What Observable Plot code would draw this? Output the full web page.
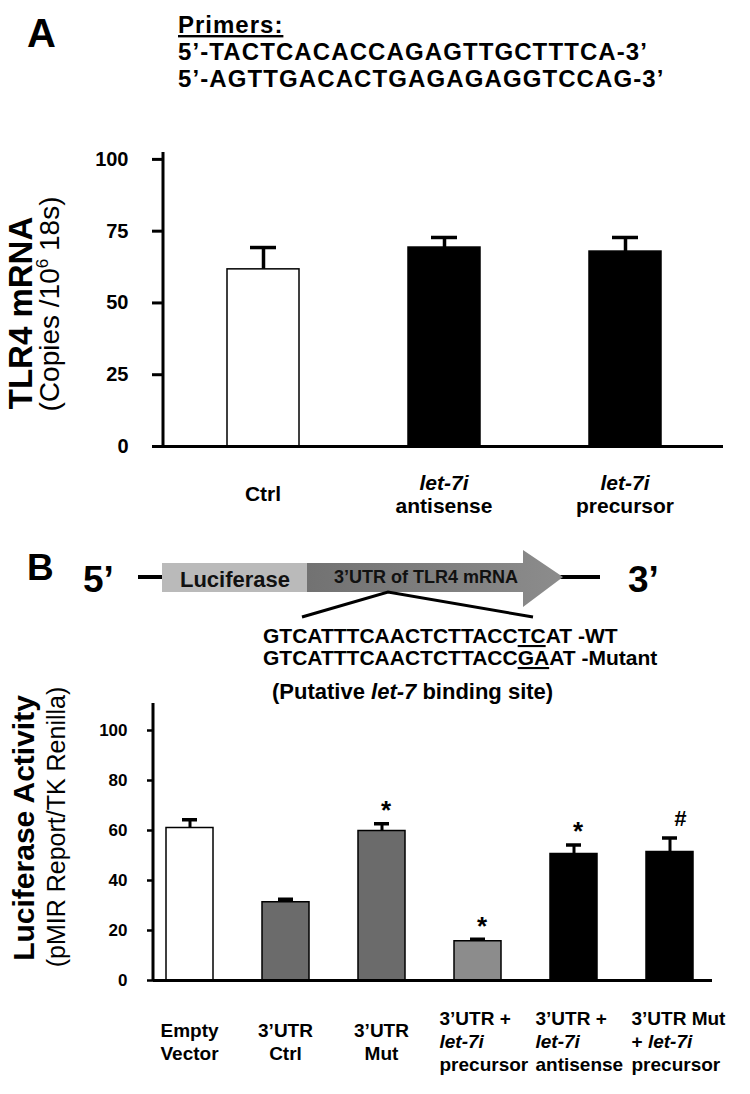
<!DOCTYPE html>
<html><head><meta charset="utf-8">
<script src="https://cdn.jsdelivr.net/npm/d3@7"></script>
<script src="https://cdn.jsdelivr.net/npm/@observablehq/plot@0.6"></script>
<style>
body{margin:0;background:#fff;}
#fig{position:relative;width:750px;height:1094px;overflow:hidden;background:#fff;}
#fig > svg{position:absolute;left:0;}
</style></head><body><div id="fig"></div>
<script>
const FONT = '"Liberation Sans", Arial, Helvetica, sans-serif';

// ---------- Data ----------
const primerLines = ["5’-TACTCACACCAGAGTTGCTTTCA-3’", "5’-AGTTGACACTGAGAGAGGTCCAG-3’"];

const groupsA = ["Ctrl", "let-7i antisense", "let-7i precursor"];
const labelsA = [["Ctrl"], ["_let-7i_", "antisense"], ["_let-7i_", "precursor"]];
const valuesA = [61.7, 69.3, 67.9];
const errorsA = [7.6, 3.5, 4.9];
const ticksA = [0, 25, 50, 75, 100];

const groupsB = ["Empty Vector", "3’UTR Ctrl", "3’UTR Mut", "3’UTR + let-7i precursor", "3’UTR + let-7i antisense", "3’UTR Mut + let-7i precursor"];
const labelsB = [["Empty", "Vector"], ["3’UTR", "Ctrl"], ["3’UTR", "Mut"], ["3’UTR +", "_let-7i_", "precursor"], ["3’UTR +", "_let-7i_", "antisense"], ["3’UTR Mut", "+ _let-7i_", "precursor"]];
const valuesB = [61.0, 31.3, 59.8, 15.7, 50.6, 51.4];
const errorsB = [3.3, 1.2, 2.9, 0.8, 3.6, 5.6];
const signifB = ["", "", "*", "*", "*", "#"];
const ticksB = [0, 20, 40, 60, 80, 100];

// ---------- Tables ----------
const dataA = groupsA.map((g, i) => ({group: g, value: valuesA[i], top: valuesA[i] + errorsA[i]}));
const dataB = groupsB.map((g, i) => ({group: g, value: valuesB[i], top: valuesB[i] + errorsB[i], sig: signifB[i]}));

const fig = document.getElementById("fig");

function addSegments(textSel, line) {
  const parts = line.split("_");
  parts.forEach((p, k) => {
    if (!p) return;
    textSel.append("tspan").attr("font-style", k % 2 ? "italic" : "normal").text(p);
  });
}

function addXLabels(svgNode, groups, labels, centerBaseline, lineH, fontSize, startOffset) {
  const sx = svgNode.scale("x");
  const svg = d3.select(svgNode);
  const g = svg.append("g").attr("font-family", FONT).attr("font-weight", "bold").attr("font-size", fontSize).attr("fill", "black");
  groups.forEach((grp, i) => {
    const cx = sx.apply(grp) + sx.bandwidth / 2;
    const lines = labels[i];
    const n = lines.length;
    const start = n > 2;
    lines.forEach((ln, j) => {
      const t = g.append("text")
        .attr("x", start ? cx + startOffset : cx)
        .attr("y", centerBaseline + (j - (n - 1) / 2) * lineH)
        .attr("text-anchor", start ? "start" : "middle");
      addSegments(t, ln);
    });
  });
}

// ---------- Panel A chart ----------
const plotA = Plot.plot({
  width: 750, height: 400,
  marginLeft: 163, marginRight: 27, marginTop: 22, marginBottom: 84,
  style: {fontFamily: FONT, fontSize: "20px", fontWeight: "bold", color: "black", background: "transparent", overflow: "visible"},
  x: {domain: groupsA, range: [171.25, 715.75], paddingInner: 0.603, paddingOuter: 0.3015, axis: null},
  y: {domain: [0, 102.4], axis: null},
  color: {domain: groupsA, range: ["white", "black", "black"]},
  marks: [
    Plot.ruleX(dataA, {x: "group", y1: "value", y2: "top", stroke: "black", strokeWidth: 3.5}),
    Plot.tickY(dataA, {x: "group", y: "top", stroke: "black", strokeWidth: 3.5, insetLeft: 23, insetRight: 23}),
    Plot.barY(dataA, {x: "group", y: "value", fill: "group", stroke: "black", strokeWidth: 1.5}),
    Plot.ruleY([0], {stroke: "black", strokeWidth: 3}),
    Plot.axisY({ticks: ticksA, tickSize: 11, tickPadding: 24, strokeWidth: 3, label: null, fontSize: 20, fontWeight: "bold"})
  ]
});
plotA.style.top = "130px";
fig.appendChild(plotA);
d3.select(plotA).append("line").attr("x1", 163).attr("x2", 163).attr("y1", 22).attr("y2", 316.5)
  .attr("stroke", "black").attr("stroke-width", 3);
addXLabels(plotA, groupsA, labelsA, 371, 23, 21, 0);

// ---------- Panel B chart ----------
const plotB = Plot.plot({
  width: 750, height: 404,
  marginLeft: 153, marginRight: 38, marginTop: 13, marginBottom: 114,
  style: {fontFamily: FONT, fontSize: "17px", fontWeight: "bold", color: "black", background: "transparent", overflow: "visible"},
  x: {domain: groupsB, range: [142, 718], paddingInner: 0.51, paddingOuter: 0.255, axis: null},
  y: {domain: [0, 110.8], axis: null},
  color: {domain: groupsB, range: ["white", "#6b6b6b", "#6b6b6b", "#8c8c8c", "black", "black"]},
  marks: [
    Plot.ruleX(dataB, {x: "group", y1: "value", y2: "top", stroke: "black", strokeWidth: 3}),
    Plot.tickY(dataB, {x: "group", y: "top", stroke: "black", strokeWidth: 3.5, insetLeft: 16, insetRight: 16}),
    Plot.barY(dataB, {x: "group", y: "value", fill: "group", stroke: "black", strokeWidth: 1.5}),
    Plot.ruleY([0], {stroke: "black", strokeWidth: 3}),
    Plot.axisY({ticks: ticksB, tickSize: 6, tickPadding: 20, strokeWidth: 2.5, label: null, fontSize: 17, fontWeight: "bold"}),
    Plot.text(dataB, {filter: d => d.sig === "*", x: "group", y: "top", text: "sig", dy: -13, dx: 4, fontSize: 26, fontWeight: "bold", fill: "black"}),
    Plot.text(dataB, {filter: d => d.sig === "#", x: "group", y: "top", text: "sig", dy: -19, dx: 10, fontSize: 22, fontWeight: "bold", fontStyle: "italic", fill: "black"})
  ]
});
plotB.style.top = "690px";
fig.appendChild(plotB);
d3.select(plotB).append("line").attr("x1", 153).attr("x2", 153).attr("y1", 13).attr("y2", 290.5)
  .attr("stroke", "black").attr("stroke-width", 3);
addXLabels(plotB, groupsB, labelsB, 358, 23, 19, -38);

// ---------- Overlay: panel letters, primers, construct diagram, axis titles ----------
const ov = d3.select(fig).append("svg").attr("width", 750).attr("height", 1094).style("top", "0px")
  .attr("font-family", FONT).attr("fill", "black");

function txt(x, y, s, size, weight, anchor) {
  const t = ov.append("text").attr("x", x).attr("y", y).attr("font-size", size)
    .attr("font-weight", weight || "bold").attr("text-anchor", anchor || "start");
  addSegments(t, s);
  return t;
}
function vtxt(x, y, size, weight) {
  return ov.append("text").attr("transform", `translate(${x},${y}) rotate(-90)`)
    .attr("text-anchor", "middle").attr("font-size", size).attr("font-weight", weight);
}

// Panel A header
txt(27, 47, "A", 40);
txt(178, 33, "Primers:", 24).attr("text-decoration", "underline").attr("letter-spacing", 1);
primerLines.forEach((p, i) => txt(178, 60 + i * 27, p, 24).attr("letter-spacing", 1.1));

// Panel A y title
vtxt(32, 313, 33, "bold").text("TLR4 mRNA");
const cp = vtxt(59, 304, 28, "normal");
cp.append("tspan").text("(Copies /10");
cp.append("tspan").attr("font-size", 17).attr("dy", -11).text("6");
cp.append("tspan").attr("dy", 11).text(" 18s)");

// Panel B y title
vtxt(34, 828, 30, "bold").text("Luciferase Activity");
vtxt(65, 827, 25, "normal").text("(pMIR Report/TK Renilla)");

// Panel B construct diagram
txt(27, 580, "B", 37);
txt(83, 592, "5’", 37);
txt(628, 592, "3’", 37);
const defs = ov.append("defs");
const grad = defs.append("linearGradient").attr("id", "utr").attr("gradientUnits", "userSpaceOnUse")
  .attr("x1", 307).attr("x2", 563).attr("y1", 0).attr("y2", 0);
grad.append("stop").attr("offset", 0).attr("stop-color", "#727272");
grad.append("stop").attr("offset", 1).attr("stop-color", "#8c8c8c");
ov.append("line").attr("x1", 138).attr("x2", 163).attr("y1", 577).attr("y2", 577).attr("stroke", "black").attr("stroke-width", 4);
ov.append("line").attr("x1", 560).attr("x2", 600).attr("y1", 577).attr("y2", 577).attr("stroke", "black").attr("stroke-width", 4);
ov.append("rect").attr("x", 162).attr("y", 563).attr("width", 145).attr("height", 29).attr("fill", "#bababa");
ov.append("path").attr("d", "M307,563 H523 V550 L563,577 L523,607 V592 H307 Z").attr("fill", "url(#utr)");
txt(235, 587, "Luciferase", 22, "bold", "middle").attr("fill", "#111");
txt(426, 583, "3’UTR of TLR4 mRNA", 18, "bold", "middle").attr("fill", "#111");
ov.append("polyline").attr("points", "302,617 388,592 533,617").attr("fill", "none").attr("stroke", "black").attr("stroke-width", 3);

const wt = ov.append("text").attr("x", 263).attr("y", 643).attr("font-size", 21).attr("font-weight", "bold");
wt.append("tspan").text("GTCATTTCAACTCTTACC");
wt.append("tspan").attr("text-decoration", "underline").text("TC");
wt.append("tspan").text("AT -WT");
const mt = ov.append("text").attr("x", 263).attr("y", 665).attr("font-size", 21).attr("font-weight", "bold");
mt.append("tspan").text("GTCATTTCAACTCTTACC");
mt.append("tspan").attr("text-decoration", "underline").text("GA");
mt.append("tspan").text("AT -Mutant");
txt(272, 699, "(Putative _let-7_ binding site)", 22);
</script></body></html>
